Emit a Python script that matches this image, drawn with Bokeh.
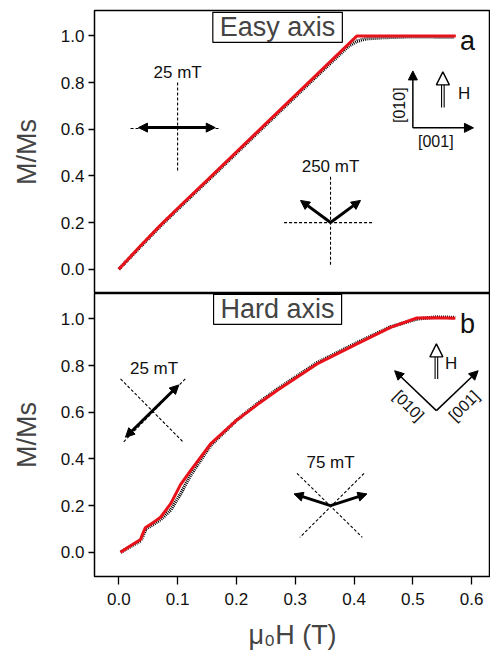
from bokeh.plotting import figure
from bokeh.layouts import column
from bokeh.models import Range1d, Label, Arrow, NormalHead, FixedTicker, PrintfTickFormatter
from bokeh.core.properties import value
from bokeh.embed import file_html
from bokeh.resources import INLINE
import math

# ---------------- data ----------------
x_ticks = [0.0, 0.1, 0.2, 0.3, 0.4, 0.5, 0.6]
y_ticks = [0.0, 0.2, 0.4, 0.6, 0.8, 1.0]

easy_h_fit = [0.0, 0.035, 0.071, 0.11, 0.15, 0.25, 0.33, 0.405, 0.45, 0.5, 0.573]
easy_m_fit = [0.0, 0.095, 0.189, 0.285, 0.381, 0.624, 0.818, 1.0, 1.0, 1.0, 1.0]
easy_h_exp = [0.0, 0.035, 0.071, 0.11, 0.15, 0.25, 0.33, 0.39, 0.405, 0.42, 0.45, 0.5, 0.57]
easy_m_exp = [0.0, 0.092, 0.186, 0.281, 0.377, 0.619, 0.812, 0.955, 0.977, 0.988, 0.993, 0.997, 0.995]

hard_h_fit = [0.003, 0.02, 0.037, 0.040, 0.045, 0.06, 0.071, 0.088, 0.105, 0.122, 0.156,
              0.2, 0.235, 0.269, 0.337, 0.405, 0.462, 0.507, 0.54, 0.572]
hard_m_fit = [0.0, 0.028, 0.055, 0.075, 0.105, 0.13, 0.15, 0.207, 0.29, 0.35, 0.464,
              0.565, 0.632, 0.693, 0.807, 0.893, 0.964, 1.004, 1.005, 1.003]
hard_h_exp = [0.003, 0.02, 0.037, 0.041, 0.046, 0.06, 0.071, 0.088, 0.105, 0.122, 0.156,
              0.2, 0.235, 0.269, 0.337, 0.405, 0.462, 0.507, 0.54, 0.572]
hard_m_exp = [0.0, 0.025, 0.05, 0.07, 0.1, 0.122, 0.14, 0.18, 0.25, 0.33, 0.458,
              0.565, 0.636, 0.698, 0.812, 0.898, 0.966, 1.0, 1.008, 1.006]

FONT = "Liberation Sans"
RED = "#e8121a"


def make_fig(height, top, bottom, show_x):
    p = figure(width=490, height=height, output_backend="svg", toolbar_location=None,
               x_range=Range1d(-0.0413, 0.632), y_range=Range1d(-0.104, 1.109),
               min_border_left=94, min_border_right=0, min_border_top=top,
               min_border_bottom=bottom)
    p.grid.visible = False
    p.outline_line_color = "black"
    p.outline_line_width = 1.5
    p.background_fill_color = "white"
    p.border_fill_color = "white"
    p.yaxis.ticker = FixedTicker(ticks=y_ticks)
    p.yaxis.formatter = PrintfTickFormatter(format="%.1f")
    p.yaxis.axis_label = "M/Ms"
    p.yaxis.axis_label_text_font = FONT
    p.yaxis.axis_label_text_font_size = "27px"
    p.yaxis.axis_label_text_font_style = "normal"
    p.yaxis.axis_label_standoff = 16
    p.yaxis.major_label_text_font = FONT
    p.yaxis.major_label_text_font_size = "17px"
    p.yaxis.major_label_standoff = 4
    p.yaxis.major_tick_out = 6
    p.yaxis.major_tick_in = 0
    p.yaxis.minor_tick_out = 0
    p.yaxis.minor_tick_in = 0
    p.yaxis.axis_line_color = None
    p.yaxis.major_tick_line_width = 1.3
    p.yaxis.major_label_text_color = "#111111"
    if show_x:
        p.xaxis.ticker = FixedTicker(ticks=x_ticks)
        p.xaxis.formatter = PrintfTickFormatter(format="%.1f")
        p.xaxis.axis_label = "μ₀H (T)"
        p.xaxis.axis_label_text_font = FONT
        p.xaxis.axis_label_text_font_size = "27px"
        p.xaxis.axis_label_text_font_style = "normal"
        p.xaxis.axis_label_standoff = 12
        p.xaxis.major_label_text_font = FONT
        p.xaxis.major_label_text_font_size = "17px"
        p.xaxis.major_label_standoff = 8
        p.xaxis.major_tick_out = 8
        p.xaxis.major_tick_in = 0
        p.xaxis.minor_tick_out = 0
        p.xaxis.minor_tick_in = 0
        p.xaxis.axis_line_color = None
        p.xaxis.major_tick_line_width = 1.3
        p.xaxis.major_label_text_color = "#111111"
    else:
        p.xaxis.visible = False
    return p


def dashed(p, x0, y0, x1, y1):
    p.segment(x0=[x0], y0=[y0], x1=[x1], y1=[y1], line_color="black",
              line_width=1.1, line_dash="3 2")


def thick_arrow(p, x0, y0, x1, y1, double=False):
    head = NormalHead(size=9, fill_color="black", line_color="black", line_width=1)
    kw = dict(end=head, x_start=x0, y_start=y0, x_end=x1, y_end=y1,
              line_width=3, line_color="black")
    if double:
        kw["start"] = NormalHead(size=9, fill_color="black", line_color="black", line_width=1)
    p.add_layout(Arrow(**kw))


def thin_arrow(p, x0, y0, x1, y1):
    p.add_layout(Arrow(end=NormalHead(size=9, fill_color="black", line_color="black", line_width=1),
                       x_start=x0, y_start=y0, x_end=x1, y_end=y1,
                       line_width=1.5, line_color="black"))


def h_arrow(p, x, y0, y1):
    base = y1 - 13 / 233.3
    for dx in (-0.0022, 0.0022):
        p.segment(x0=[x + dx], y0=[y0], x1=[x + dx], y1=[base], line_color="black", line_width=1.1)
    p.add_layout(Arrow(end=NormalHead(size=13, fill_color="white", line_color="black", line_width=1.4),
                       x_start=x, y_start=base - 0.01, x_end=x, y_end=y1,
                       line_alpha=0))


def txt(p, x, y, s, size="17px", angle=0.0, align="center", baseline="middle"):
    p.add_layout(Label(x=x, y=y, text=s, text_font=FONT, text_font_size=size,
                       text_align=align, text_baseline=baseline, angle=angle,
                       text_color="#111111"))


def title_box(p, x, y, s):
    p.add_layout(Label(x=x, y=y, text=s, text_font=FONT, text_font_size="27px",
                       text_align="center", text_baseline="middle",
                       border_line_color="black", border_line_width=1.2,
                       background_fill_color="white",
                       padding=dict(left=7, right=7, top=0, bottom=0)))


# ---------------- panel a ----------------
pa = make_fig(293, 10, 0, False)
pa.line(easy_h_exp, easy_m_exp, line_color="black", line_width=3.5, line_dash="1 1")
pa.line(easy_h_fit, easy_m_fit, line_color=RED, line_width=3)
title_box(pa, 0.27, 1.037, "Easy axis")
txt(pa, 0.58, 0.98, "a", size="27px", align="left", baseline="alphabetic")

txt(pa, 0.1, 0.844, "25 mT")
dashed(pa, 0.1, 0.80, 0.1, 0.416)
dashed(pa, 0.02, 0.603, 0.173, 0.603)
thick_arrow(pa, 0.0335, 0.607, 0.164, 0.607, double=True)

txt(pa, 0.36, 0.439, "250 mT")
dashed(pa, 0.36, 0.396, 0.36, 0.017)
dashed(pa, 0.281, 0.2, 0.434, 0.2)
thick_arrow(pa, 0.36, 0.2, 0.309, 0.295)
thick_arrow(pa, 0.36, 0.2, 0.411, 0.295)

thin_arrow(pa, 0.5, 0.606, 0.5, 0.85)
thin_arrow(pa, 0.5, 0.606, 0.603, 0.606)
txt(pa, 0.477, 0.703, "[010]", size="16px", angle=math.pi / 2)
txt(pa, 0.539, 0.546, "[001]", size="16px")
h_arrow(pa, 0.551, 0.693, 0.846)
txt(pa, 0.587, 0.753, "H")

# ---------------- panel b ----------------
pb = make_fig(359, 0, 76, True)
pb.line(hard_h_exp, hard_m_exp, line_color="black", line_width=3.5, line_dash="1 1")
pb.line(hard_h_fit, hard_m_fit, line_color=RED, line_width=3)
title_box(pb, 0.27, 1.041, "Hard axis")
txt(pb, 0.58, 0.979, "b", size="27px", align="left", baseline="alphabetic")

txt(pb, 0.06, 0.788, "25 mT")
dashed(pb, 0.003, 0.743, 0.11, 0.471)
dashed(pb, 0.113, 0.743, 0.0075, 0.471)
thick_arrow(pb, 0.0114, 0.493, 0.102, 0.717, double=True)

txt(pb, 0.36, 0.385, "75 mT")
dashed(pb, 0.303, 0.338, 0.414, 0.064)
dashed(pb, 0.417, 0.338, 0.308, 0.064)
thick_arrow(pb, 0.36, 0.2, 0.298, 0.25)
thick_arrow(pb, 0.36, 0.2, 0.422, 0.25)

thin_arrow(pb, 0.54, 0.607, 0.469, 0.778)
thin_arrow(pb, 0.54, 0.607, 0.611, 0.778)
txt(pb, 0.493, 0.628, "[010]", size="16px", angle=-math.pi / 4)
txt(pb, 0.587, 0.628, "[001]", size="16px", angle=math.pi / 4)
h_arrow(pb, 0.54, 0.743, 0.893)
txt(pb, 0.565, 0.807, "H")

layout = column(pa, pb, spacing=0)
open("out.html", "w").write(file_html(layout, INLINE))
